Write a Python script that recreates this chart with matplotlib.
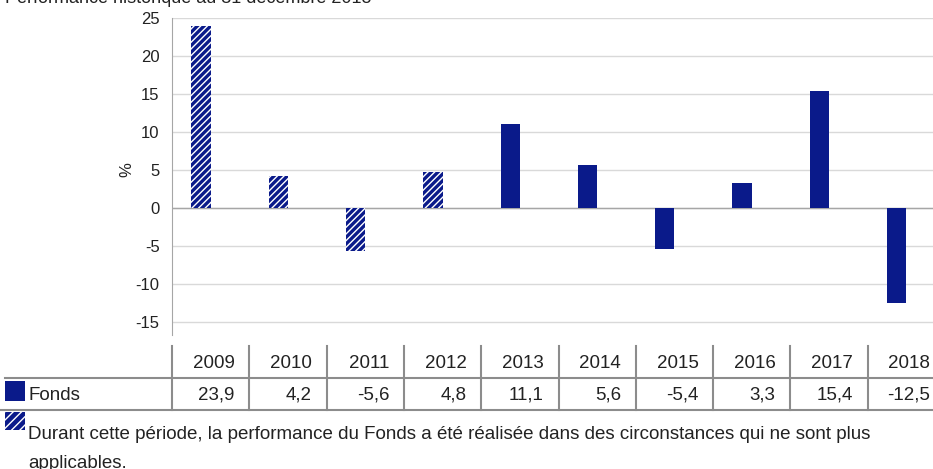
import matplotlib
matplotlib.use("Agg")
import matplotlib.pyplot as plt
import matplotlib.transforms as mtransforms
from matplotlib.lines import Line2D
from matplotlib.patches import Rectangle

plt.rcParams['font.family'] = ['Liberation Sans Narrow', 'Liberation Sans', 'DejaVu Sans']
plt.rcParams['hatch.color'] = 'white'
plt.rcParams['hatch.linewidth'] = 1.0

annees = ['2009', '2010', '2011', '2012', '2013', '2014', '2015', '2016', '2017', '2018']
fonds = [23.9, 4.2, -5.6, 4.8, 11.1, 5.6, -5.4, 3.3, 15.4, -12.5]
anciens = [True, True, True, True, False, False, False, False, False, False]
yticks = [25, 20, 15, 10, 5, 0, -5, -10, -15]

titre = "Performance historique au 31 décembre 2018"
note = ("Durant cette période, la performance du Fonds a été réalisée dans des circonstances qui ne sont plus\n"
        "applicables.")

bleu = '#0a1a8a'
texte = '#222222'
W, H = 933, 469

fig = plt.figure(figsize=(W / 100, H / 100), dpi=100)
# axe : x 172 -> 945 px, y 18 (25) -> 335 px
ax = fig.add_axes([172 / W, 1 - 335 / H, (945 - 172) / W, (335 - 18) / H])
n = len(annees)
x = list(range(n))
for i in x:
    ax.bar(i, fonds[i], width=-0.25, align='edge', color=bleu,
           hatch='/////' if anciens[i] else None, edgecolor=bleu if not anciens[i] else 'white',
           linewidth=0, zorder=3)
ax.set_xlim(-0.5, n - 0.5)
ax.set_ylim(-16.7, 25)
ax.set_yticks(yticks)
ax.set_yticklabels([str(t) for t in yticks], fontsize=12, color=texte)
ax.set_xticks([])
ax.grid(axis='y', color='#d9d9d9', linewidth=1, zorder=0)
ax.axhline(0, color='#a6a6a6', linewidth=1, zorder=2)
for s in ['top', 'right', 'bottom']:
    ax.spines[s].set_visible(False)
ax.spines['left'].set_color('#a6a6a6')
ax.tick_params(axis='y', length=0, pad=9)
ax.set_ylabel('%', fontsize=12, color=texte)
ax.yaxis.set_label_coords((134 - 172) / (945 - 172), (335 - 170) / (335 - 18))

fig.text(5 / W, 1 - 3 / H, titre, fontsize=13, color=texte, va='baseline', ha='left')

# tableau
tr = mtransforms.blended_transform_factory(ax.transData, fig.transFigure)
def fy(p):
    return 1 - p / H
gris = '#8c8c8c'
for i in range(n + 1):
    fig.add_artist(Line2D([i - 0.5, i - 0.5], [fy(346), fy(410)], transform=tr, color=gris, lw=1.5))
fig.add_artist(Line2D([5 / W, 1], [fy(378), fy(378)], transform=fig.transFigure, color=gris, lw=1.5))
fig.add_artist(Line2D([0, 1], [fy(410), fy(410)], transform=fig.transFigure, color=gris, lw=1.5))
for i in x:
    fig.text(i + 0.5 - 0.19, fy(363), annees[i], transform=tr, ha='right', va='center',
             fontsize=13.5, color=texte)
    fig.text(i + 0.5 - 0.19, fy(395), f"{fonds[i]:.1f}".replace('.', ','), transform=tr,
             ha='right', va='center', fontsize=13.5, color=texte)

fig.add_artist(Rectangle((5 / W, fy(401)), 20 / W, 20 / H, transform=fig.transFigure,
                         facecolor=bleu, edgecolor='none'))
fig.text(28 / W, fy(395), 'Fonds', fontsize=13.5, color=texte, va='center', ha='left')
fig.add_artist(Rectangle((5 / W, fy(430)), 20 / W, 18 / H, transform=fig.transFigure,
                         facecolor=bleu, edgecolor='white', hatch='////', linewidth=0))
fig.text(28 / W, fy(426), note, fontsize=13.5, color=texte, va='top', ha='left', linespacing=1.9)

fig.savefig('out.png', dpi=100)
